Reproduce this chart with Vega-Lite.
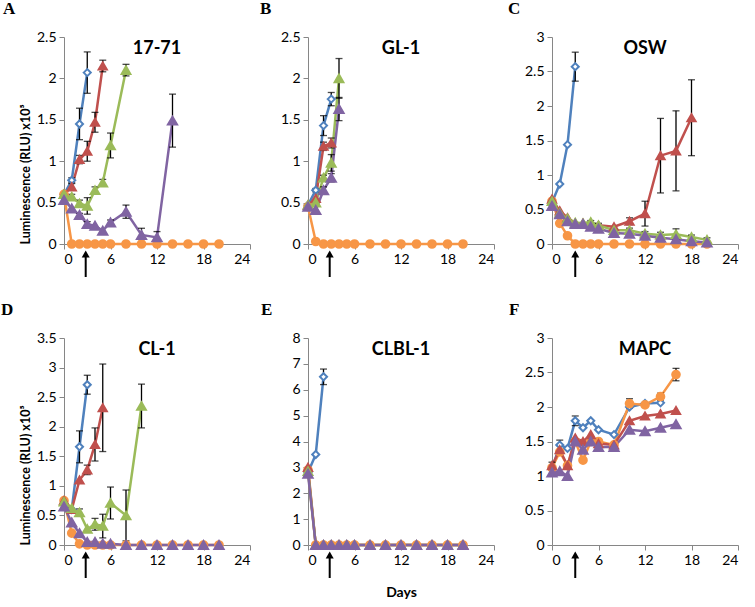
{
"$schema":"https://vega.github.io/schema/vega-lite/v6.json",
"padding":{"left":1,"top":0,"right":3,"bottom":3},
"datasets":{"d":[
{"p":"A","s":"blue","d":0,"v":0.6,"e":0},{"p":"A","s":"blue","d":1,"v":0.77,"e":0.03},{"p":"A","s":"blue","d":2,"v":1.45,"e":0.19},{"p":"A","s":"blue","d":3,"v":2.07,"e":0.25},
{"p":"A","s":"orange","d":0,"v":0.6,"e":0},{"p":"A","s":"orange","d":1,"v":0,"e":0},{"p":"A","s":"orange","d":2,"v":0,"e":0},{"p":"A","s":"orange","d":3,"v":0,"e":0},{"p":"A","s":"orange","d":4,"v":0,"e":0},{"p":"A","s":"orange","d":5,"v":0,"e":0},{"p":"A","s":"orange","d":6,"v":0,"e":0},{"p":"A","s":"orange","d":8,"v":0,"e":0},{"p":"A","s":"orange","d":10,"v":0,"e":0},{"p":"A","s":"orange","d":12,"v":0,"e":0},{"p":"A","s":"orange","d":14,"v":0,"e":0},{"p":"A","s":"orange","d":16,"v":0,"e":0},{"p":"A","s":"orange","d":18,"v":0,"e":0},{"p":"A","s":"orange","d":20,"v":0,"e":0},
{"p":"A","s":"red","d":0,"v":0.6,"e":0},{"p":"A","s":"red","d":1,"v":0.69,"e":0.04},{"p":"A","s":"red","d":2,"v":1.02,"e":0.05},{"p":"A","s":"red","d":3,"v":1.12,"e":0.12},{"p":"A","s":"red","d":4,"v":1.47,"e":0.12},{"p":"A","s":"red","d":5,"v":2.15,"e":0.07},
{"p":"A","s":"green","d":0,"v":0.6,"e":0},{"p":"A","s":"green","d":1,"v":0.57,"e":0.03},{"p":"A","s":"green","d":2,"v":0.49,"e":0.04},{"p":"A","s":"green","d":3,"v":0.46,"e":0.1},{"p":"A","s":"green","d":4,"v":0.65,"e":0.04},{"p":"A","s":"green","d":5,"v":0.74,"e":0.04},{"p":"A","s":"green","d":6,"v":1.19,"e":0.15},{"p":"A","s":"green","d":8,"v":2.1,"e":0.07},
{"p":"A","s":"purple","d":0,"v":0.53,"e":0},{"p":"A","s":"purple","d":1,"v":0.43,"e":0},{"p":"A","s":"purple","d":2,"v":0.35,"e":0.02},{"p":"A","s":"purple","d":3,"v":0.24,"e":0.03},{"p":"A","s":"purple","d":4,"v":0.22,"e":0},{"p":"A","s":"purple","d":5,"v":0.16,"e":0},{"p":"A","s":"purple","d":6,"v":0.26,"e":0.03},{"p":"A","s":"purple","d":8,"v":0.39,"e":0.08},{"p":"A","s":"purple","d":10,"v":0.11,"e":0.08},{"p":"A","s":"purple","d":12,"v":0.08,"e":0.07},{"p":"A","s":"purple","d":14,"v":1.49,"e":0.32},

{"p":"B","s":"blue","d":0,"v":0.47,"e":0},{"p":"B","s":"blue","d":1,"v":0.65,"e":0.02},{"p":"B","s":"blue","d":2,"v":1.43,"e":0.12},{"p":"B","s":"blue","d":3,"v":1.75,"e":0.08},
{"p":"B","s":"orange","d":0,"v":0.45,"e":0},{"p":"B","s":"orange","d":1,"v":0.03,"e":0},{"p":"B","s":"orange","d":2,"v":0,"e":0},{"p":"B","s":"orange","d":3,"v":0,"e":0},{"p":"B","s":"orange","d":4,"v":0,"e":0},{"p":"B","s":"orange","d":5,"v":0,"e":0},{"p":"B","s":"orange","d":6,"v":0,"e":0},{"p":"B","s":"orange","d":8,"v":0,"e":0},{"p":"B","s":"orange","d":10,"v":0,"e":0},{"p":"B","s":"orange","d":12,"v":0,"e":0},{"p":"B","s":"orange","d":14,"v":0,"e":0},{"p":"B","s":"orange","d":16,"v":0,"e":0},{"p":"B","s":"orange","d":18,"v":0,"e":0},{"p":"B","s":"orange","d":20,"v":0,"e":0},
{"p":"B","s":"red","d":0,"v":0.47,"e":0},{"p":"B","s":"red","d":1,"v":0.55,"e":0},{"p":"B","s":"red","d":2,"v":1.18,"e":0.05},{"p":"B","s":"red","d":3,"v":1.22,"e":0.06},
{"p":"B","s":"green","d":0,"v":0.47,"e":0},{"p":"B","s":"green","d":1,"v":0.5,"e":0},{"p":"B","s":"green","d":2,"v":0.8,"e":0.03},{"p":"B","s":"green","d":3,"v":0.98,"e":0.1},{"p":"B","s":"green","d":4,"v":2.0,"e":0.24},
{"p":"B","s":"purple","d":0,"v":0.45,"e":0},{"p":"B","s":"purple","d":1,"v":0.41,"e":0},{"p":"B","s":"purple","d":2,"v":0.65,"e":0.04},{"p":"B","s":"purple","d":3,"v":0.8,"e":0.05},{"p":"B","s":"purple","d":4,"v":1.63,"e":0.14},

{"p":"C","s":"blue","d":0,"v":0.6,"e":0},{"p":"C","s":"blue","d":1,"v":0.87,"e":0},{"p":"C","s":"blue","d":2,"v":1.44,"e":0},{"p":"C","s":"blue","d":3,"v":2.57,"e":0.21},
{"p":"C","s":"orange","d":0,"v":0.62,"e":0},{"p":"C","s":"orange","d":1,"v":0.3,"e":0},{"p":"C","s":"orange","d":2,"v":0.12,"e":0},{"p":"C","s":"orange","d":3,"v":0,"e":0},{"p":"C","s":"orange","d":4,"v":0,"e":0},{"p":"C","s":"orange","d":5,"v":0,"e":0},{"p":"C","s":"orange","d":6,"v":0,"e":0},{"p":"C","s":"orange","d":8,"v":0,"e":0},{"p":"C","s":"orange","d":10,"v":0,"e":0},{"p":"C","s":"orange","d":12,"v":0,"e":0},{"p":"C","s":"orange","d":14,"v":0,"e":0},{"p":"C","s":"orange","d":16,"v":0,"e":0},{"p":"C","s":"orange","d":18,"v":0,"e":0},{"p":"C","s":"orange","d":20,"v":0,"e":0},
{"p":"C","s":"red","d":0,"v":0.65,"e":0},{"p":"C","s":"red","d":1,"v":0.48,"e":0},{"p":"C","s":"red","d":2,"v":0.38,"e":0},{"p":"C","s":"red","d":3,"v":0.3,"e":0},{"p":"C","s":"red","d":4,"v":0.3,"e":0},{"p":"C","s":"red","d":5,"v":0.28,"e":0},{"p":"C","s":"red","d":6,"v":0.27,"e":0},{"p":"C","s":"red","d":8,"v":0.25,"e":0},{"p":"C","s":"red","d":10,"v":0.33,"e":0.05},{"p":"C","s":"red","d":12,"v":0.44,"e":0.18},{"p":"C","s":"red","d":14,"v":1.28,"e":0.54},{"p":"C","s":"red","d":16,"v":1.35,"e":0.58},{"p":"C","s":"red","d":18,"v":1.83,"e":0.55},
{"p":"C","s":"green","d":0,"v":0.62,"e":0},{"p":"C","s":"green","d":1,"v":0.45,"e":0},{"p":"C","s":"green","d":2,"v":0.37,"e":0},{"p":"C","s":"green","d":3,"v":0.31,"e":0},{"p":"C","s":"green","d":4,"v":0.3,"e":0},{"p":"C","s":"green","d":5,"v":0.32,"e":0.02},{"p":"C","s":"green","d":6,"v":0.27,"e":0.03},{"p":"C","s":"green","d":8,"v":0.2,"e":0},{"p":"C","s":"green","d":10,"v":0.2,"e":0.03},{"p":"C","s":"green","d":12,"v":0.15,"e":0.03},{"p":"C","s":"green","d":14,"v":0.13,"e":0.04},{"p":"C","s":"green","d":16,"v":0.14,"e":0.08},{"p":"C","s":"green","d":18,"v":0.1,"e":0.03},{"p":"C","s":"green","d":20,"v":0.06,"e":0.03},
{"p":"C","s":"purple","d":0,"v":0.55,"e":0},{"p":"C","s":"purple","d":1,"v":0.43,"e":0},{"p":"C","s":"purple","d":2,"v":0.33,"e":0},{"p":"C","s":"purple","d":3,"v":0.29,"e":0},{"p":"C","s":"purple","d":4,"v":0.29,"e":0},{"p":"C","s":"purple","d":5,"v":0.25,"e":0},{"p":"C","s":"purple","d":6,"v":0.22,"e":0},{"p":"C","s":"purple","d":8,"v":0.16,"e":0},{"p":"C","s":"purple","d":10,"v":0.15,"e":0},{"p":"C","s":"purple","d":12,"v":0.12,"e":0},{"p":"C","s":"purple","d":14,"v":0.09,"e":0},{"p":"C","s":"purple","d":16,"v":0.07,"e":0},{"p":"C","s":"purple","d":18,"v":0.04,"e":0},{"p":"C","s":"purple","d":20,"v":0.02,"e":0},

{"p":"D","s":"blue","d":0,"v":0.7,"e":0},{"p":"D","s":"blue","d":1,"v":0.6,"e":0},{"p":"D","s":"blue","d":2,"v":1.66,"e":0.27},{"p":"D","s":"blue","d":3,"v":2.71,"e":0.16},
{"p":"D","s":"orange","d":0,"v":0.75,"e":0},{"p":"D","s":"orange","d":1,"v":0.2,"e":0},{"p":"D","s":"orange","d":2,"v":0.02,"e":0},{"p":"D","s":"orange","d":3,"v":0,"e":0},{"p":"D","s":"orange","d":4,"v":0,"e":0},{"p":"D","s":"orange","d":5,"v":0,"e":0},{"p":"D","s":"orange","d":6,"v":0,"e":0},{"p":"D","s":"orange","d":8,"v":0,"e":0},{"p":"D","s":"orange","d":10,"v":0,"e":0},{"p":"D","s":"orange","d":12,"v":0,"e":0},{"p":"D","s":"orange","d":14,"v":0,"e":0},{"p":"D","s":"orange","d":16,"v":0,"e":0},{"p":"D","s":"orange","d":18,"v":0,"e":0},{"p":"D","s":"orange","d":20,"v":0,"e":0},
{"p":"D","s":"red","d":0,"v":0.75,"e":0},{"p":"D","s":"red","d":1,"v":0.6,"e":0},{"p":"D","s":"red","d":2,"v":1.1,"e":0},{"p":"D","s":"red","d":3,"v":1.27,"e":0.08},{"p":"D","s":"red","d":4,"v":1.7,"e":0.28},{"p":"D","s":"red","d":5,"v":2.32,"e":0.74},
{"p":"D","s":"green","d":0,"v":0.73,"e":0},{"p":"D","s":"green","d":1,"v":0.62,"e":0},{"p":"D","s":"green","d":2,"v":0.55,"e":0.06},{"p":"D","s":"green","d":3,"v":0.27,"e":0},{"p":"D","s":"green","d":4,"v":0.35,"e":0.1},{"p":"D","s":"green","d":5,"v":0.32,"e":0.2},{"p":"D","s":"green","d":6,"v":0.71,"e":0.27},{"p":"D","s":"green","d":8,"v":0.5,"e":0.43},{"p":"D","s":"green","d":10,"v":2.35,"e":0.37},
{"p":"D","s":"purple","d":0,"v":0.65,"e":0},{"p":"D","s":"purple","d":1,"v":0.38,"e":0},{"p":"D","s":"purple","d":2,"v":0.2,"e":0},{"p":"D","s":"purple","d":3,"v":0.05,"e":0},{"p":"D","s":"purple","d":4,"v":0.05,"e":0},{"p":"D","s":"purple","d":5,"v":0.02,"e":0},{"p":"D","s":"purple","d":6,"v":0.02,"e":0},{"p":"D","s":"purple","d":8,"v":0,"e":0},{"p":"D","s":"purple","d":10,"v":0,"e":0},{"p":"D","s":"purple","d":12,"v":0,"e":0},{"p":"D","s":"purple","d":14,"v":0,"e":0},{"p":"D","s":"purple","d":16,"v":0,"e":0},{"p":"D","s":"purple","d":18,"v":0,"e":0},{"p":"D","s":"purple","d":20,"v":0,"e":0},

{"p":"E","s":"blue","d":0,"v":2.8,"e":0},{"p":"E","s":"blue","d":1,"v":3.5,"e":0},{"p":"E","s":"blue","d":2,"v":6.5,"e":0.3},
{"p":"E","s":"orange","d":0,"v":2.9,"e":0},{"p":"E","s":"orange","d":1,"v":0,"e":0},{"p":"E","s":"orange","d":2,"v":0,"e":0},{"p":"E","s":"orange","d":3,"v":0,"e":0},{"p":"E","s":"orange","d":4,"v":0,"e":0},{"p":"E","s":"orange","d":5,"v":0,"e":0},{"p":"E","s":"orange","d":6,"v":0,"e":0},{"p":"E","s":"orange","d":8,"v":0,"e":0},{"p":"E","s":"orange","d":10,"v":0,"e":0},{"p":"E","s":"orange","d":12,"v":0,"e":0},{"p":"E","s":"orange","d":14,"v":0,"e":0},{"p":"E","s":"orange","d":16,"v":0,"e":0},{"p":"E","s":"orange","d":18,"v":0,"e":0},{"p":"E","s":"orange","d":20,"v":0,"e":0},
{"p":"E","s":"red","d":0,"v":3.0,"e":0},{"p":"E","s":"red","d":1,"v":0,"e":0},{"p":"E","s":"red","d":2,"v":0,"e":0},{"p":"E","s":"red","d":3,"v":0,"e":0},{"p":"E","s":"red","d":4,"v":0,"e":0},{"p":"E","s":"red","d":5,"v":0,"e":0},{"p":"E","s":"red","d":6,"v":0,"e":0},{"p":"E","s":"red","d":8,"v":0,"e":0},{"p":"E","s":"red","d":10,"v":0,"e":0},{"p":"E","s":"red","d":12,"v":0,"e":0},{"p":"E","s":"red","d":14,"v":0,"e":0},{"p":"E","s":"red","d":16,"v":0,"e":0},{"p":"E","s":"red","d":18,"v":0,"e":0},{"p":"E","s":"red","d":20,"v":0,"e":0},
{"p":"E","s":"green","d":0,"v":2.85,"e":0},{"p":"E","s":"green","d":1,"v":0,"e":0},{"p":"E","s":"green","d":2,"v":0,"e":0},{"p":"E","s":"green","d":3,"v":0,"e":0},{"p":"E","s":"green","d":4,"v":0,"e":0},{"p":"E","s":"green","d":5,"v":0,"e":0},{"p":"E","s":"green","d":6,"v":0,"e":0},{"p":"E","s":"green","d":8,"v":0,"e":0},{"p":"E","s":"green","d":10,"v":0,"e":0},{"p":"E","s":"green","d":12,"v":0,"e":0},{"p":"E","s":"green","d":14,"v":0,"e":0},{"p":"E","s":"green","d":16,"v":0,"e":0},{"p":"E","s":"green","d":18,"v":0,"e":0},{"p":"E","s":"green","d":20,"v":0,"e":0},
{"p":"E","s":"purple","d":0,"v":2.75,"e":0},{"p":"E","s":"purple","d":1,"v":0,"e":0},{"p":"E","s":"purple","d":2,"v":0,"e":0},{"p":"E","s":"purple","d":3,"v":0,"e":0},{"p":"E","s":"purple","d":4,"v":0,"e":0},{"p":"E","s":"purple","d":5,"v":0,"e":0},{"p":"E","s":"purple","d":6,"v":0,"e":0},{"p":"E","s":"purple","d":8,"v":0,"e":0},{"p":"E","s":"purple","d":10,"v":0,"e":0},{"p":"E","s":"purple","d":12,"v":0,"e":0},{"p":"E","s":"purple","d":14,"v":0,"e":0},{"p":"E","s":"purple","d":16,"v":0,"e":0},{"p":"E","s":"purple","d":18,"v":0,"e":0},{"p":"E","s":"purple","d":20,"v":0,"e":0},

{"p":"F","s":"blue","d":0,"v":1.1,"e":0.1},{"p":"F","s":"blue","d":1,"v":1.45,"e":0.07},{"p":"F","s":"blue","d":2,"v":1.4,"e":0},{"p":"F","s":"blue","d":3,"v":1.8,"e":0.07},{"p":"F","s":"blue","d":4,"v":1.7,"e":0},{"p":"F","s":"blue","d":5,"v":1.8,"e":0},{"p":"F","s":"blue","d":6,"v":1.67,"e":0},{"p":"F","s":"blue","d":8,"v":1.6,"e":0},{"p":"F","s":"blue","d":10,"v":2.0,"e":0},{"p":"F","s":"blue","d":12,"v":2.05,"e":0},{"p":"F","s":"blue","d":14,"v":2.06,"e":0},
{"p":"F","s":"orange","d":0,"v":1.12,"e":0},{"p":"F","s":"orange","d":1,"v":1.35,"e":0},{"p":"F","s":"orange","d":2,"v":1.15,"e":0},{"p":"F","s":"orange","d":3,"v":1.5,"e":0},{"p":"F","s":"orange","d":4,"v":1.23,"e":0},{"p":"F","s":"orange","d":5,"v":1.5,"e":0},{"p":"F","s":"orange","d":6,"v":1.5,"e":0},{"p":"F","s":"orange","d":8,"v":1.45,"e":0},{"p":"F","s":"orange","d":10,"v":2.05,"e":0.07},{"p":"F","s":"orange","d":12,"v":2.03,"e":0},{"p":"F","s":"orange","d":14,"v":2.15,"e":0.05},{"p":"F","s":"orange","d":16,"v":2.47,"e":0.09},
{"p":"F","s":"red","d":0,"v":1.15,"e":0},{"p":"F","s":"red","d":1,"v":1.38,"e":0},{"p":"F","s":"red","d":2,"v":1.15,"e":0},{"p":"F","s":"red","d":3,"v":1.55,"e":0},{"p":"F","s":"red","d":4,"v":1.5,"e":0},{"p":"F","s":"red","d":5,"v":1.6,"e":0},{"p":"F","s":"red","d":6,"v":1.47,"e":0},{"p":"F","s":"red","d":8,"v":1.45,"e":0},{"p":"F","s":"red","d":10,"v":1.8,"e":0},{"p":"F","s":"red","d":12,"v":1.87,"e":0},{"p":"F","s":"red","d":14,"v":1.9,"e":0},{"p":"F","s":"red","d":16,"v":1.95,"e":0},
{"p":"F","s":"purple","d":0,"v":1.05,"e":0},{"p":"F","s":"purple","d":1,"v":1.07,"e":0},{"p":"F","s":"purple","d":2,"v":1.0,"e":0},{"p":"F","s":"purple","d":3,"v":1.5,"e":0},{"p":"F","s":"purple","d":4,"v":1.38,"e":0},{"p":"F","s":"purple","d":5,"v":1.5,"e":0},{"p":"F","s":"purple","d":6,"v":1.42,"e":0},{"p":"F","s":"purple","d":8,"v":1.42,"e":0},{"p":"F","s":"purple","d":10,"v":1.67,"e":0},{"p":"F","s":"purple","d":12,"v":1.65,"e":0},{"p":"F","s":"purple","d":14,"v":1.7,"e":0},{"p":"F","s":"purple","d":16,"v":1.75,"e":0}
]},
"columns":3,
"spacing":{"row":94,"column":58},
"bounds":"flush",
"concat":[
{"width":186,"height":207,"title":{"text":"A","dx":-61},
 "layer":[
  {"data":{"name":"d"},"transform":[{"filter":"datum.p==='A'"}],
   "encoding":{"x":{"field":"d","type":"quantitative","scale":{"domain":[0,24],"nice":false,"padding":0},"axis":{"values":[0,6,12,18,24],"title":null}},
    "y":{"field":"v","type":"quantitative","scale":{"domain":[0,2.5],"nice":false,"padding":0},"axis":{"values":[0,0.5,1,1.5,2,2.5],"title":"Luminescence (RLU) x10⁵"}}},
   "layer":[
    {"mark":{"type":"line","strokeWidth":2.5},"encoding":{"color":{"field":"s","type":"nominal","scale":{"domain":["blue","orange","red","green","purple"],"range":["#4F81BD","#F79646","#C0504D","#9BBB59","#8064A2"]},"legend":null}}},
    {"transform":[{"filter":"datum.e>0"}],"mark":{"type":"errorbar","color":"black","thickness":1.3,"ticks":{"size":7}},"encoding":{"yError":{"field":"e"}}},
    {"mark":{"type":"point","strokeWidth":2,"opacity":1},"encoding":{
      "shape":{"field":"s","type":"nominal","scale":{"domain":["blue","orange","red","green","purple"],"range":["diamond","circle","triangle-up","triangle-up","triangle-up"]},"legend":null},
      "fill":{"field":"s","type":"nominal","scale":{"domain":["blue","orange","red","green","purple"],"range":["white","#F79646","#C0504D","#9BBB59","#8064A2"]},"legend":null},
      "stroke":{"field":"s","type":"nominal","scale":{"domain":["blue","orange","red","green","purple"],"range":["#4F81BD","#F79646","#C0504D","#9BBB59","#8064A2"]},"legend":null},
      "size":{"field":"s","type":"nominal","scale":{"domain":["blue","orange","red","green","purple"],"range":[50,85,80,80,80]},"legend":null}}}
   ]},
  {"data":{"values":[{"t":"17-71"}]},"mark":{"type":"text","fontSize":18,"fontWeight":"bold","baseline":"top","dy":3},"encoding":{"x":{"datum":12,"scale":{"domain":[0,24],"nice":false,"padding":0},"axis":{"values":[0,6,12,18,24],"title":null}},"y":{"datum":2.5,"scale":{"domain":[0,2.5],"nice":false,"padding":0},"axis":{"values":[0,0.5,1,1.5,2,2.5],"title":"Luminescence (RLU) x10⁵"}},"text":{"field":"t"}}},
  {"data":{"values":[{"t":"arrow"}]},"mark":{"type":"rule","color":"black","strokeWidth":2,"yOffset":12,"y2Offset":33},"encoding":{"x":{"datum":2.8,"scale":{"domain":[0,24],"nice":false,"padding":0},"axis":{"values":[0,6,12,18,24],"title":null}},"y":{"datum":0,"scale":{"domain":[0,2.5],"nice":false,"padding":0},"axis":{"values":[0,0.5,1,1.5,2,2.5],"title":"Luminescence (RLU) x10⁵"}},"y2":{"datum":0}}},
  {"data":{"values":[{"t":"arrow"}]},"mark":{"type":"point","shape":"triangle-up","filled":true,"color":"black","size":64,"yOffset":10,"opacity":1},"encoding":{"x":{"datum":2.8,"scale":{"domain":[0,24],"nice":false,"padding":0},"axis":{"values":[0,6,12,18,24],"title":null}},"y":{"datum":0,"scale":{"domain":[0,2.5],"nice":false,"padding":0},"axis":{"values":[0,0.5,1,1.5,2,2.5],"title":"Luminescence (RLU) x10⁵"}}}}
 ]},
{"width":186,"height":207,"title":{"text":"B","dx":-48},
 "layer":[
  {"data":{"name":"d"},"transform":[{"filter":"datum.p==='B'"}],
   "encoding":{"x":{"field":"d","type":"quantitative","scale":{"domain":[0,24],"nice":false,"padding":0},"axis":{"values":[0,6,12,18,24],"title":null}},
    "y":{"field":"v","type":"quantitative","scale":{"domain":[0,2.5],"nice":false,"padding":0},"axis":{"values":[0,0.5,1,1.5,2,2.5],"title":null}}},
   "layer":[
    {"mark":{"type":"line","strokeWidth":2.5},"encoding":{"color":{"field":"s","type":"nominal","scale":{"domain":["blue","orange","red","green","purple"],"range":["#4F81BD","#F79646","#C0504D","#9BBB59","#8064A2"]},"legend":null}}},
    {"transform":[{"filter":"datum.e>0"}],"mark":{"type":"errorbar","color":"black","thickness":1.3,"ticks":{"size":7}},"encoding":{"yError":{"field":"e"}}},
    {"mark":{"type":"point","strokeWidth":2,"opacity":1},"encoding":{
      "shape":{"field":"s","type":"nominal","scale":{"domain":["blue","orange","red","green","purple"],"range":["diamond","circle","triangle-up","triangle-up","triangle-up"]},"legend":null},
      "fill":{"field":"s","type":"nominal","scale":{"domain":["blue","orange","red","green","purple"],"range":["white","#F79646","#C0504D","#9BBB59","#8064A2"]},"legend":null},
      "stroke":{"field":"s","type":"nominal","scale":{"domain":["blue","orange","red","green","purple"],"range":["#4F81BD","#F79646","#C0504D","#9BBB59","#8064A2"]},"legend":null},
      "size":{"field":"s","type":"nominal","scale":{"domain":["blue","orange","red","green","purple"],"range":[50,85,80,80,80]},"legend":null}}}
   ]},
  {"data":{"values":[{"t":"GL-1"}]},"mark":{"type":"text","fontSize":18,"fontWeight":"bold","baseline":"top","dy":3},"encoding":{"x":{"datum":12,"scale":{"domain":[0,24],"nice":false,"padding":0},"axis":{"values":[0,6,12,18,24],"title":null}},"y":{"datum":2.5,"scale":{"domain":[0,2.5],"nice":false,"padding":0},"axis":{"values":[0,0.5,1,1.5,2,2.5],"title":null}},"text":{"field":"t"}}},
  {"data":{"values":[{"t":"arrow"}]},"mark":{"type":"rule","color":"black","strokeWidth":2,"yOffset":12,"y2Offset":33},"encoding":{"x":{"datum":2.8,"scale":{"domain":[0,24],"nice":false,"padding":0},"axis":{"values":[0,6,12,18,24],"title":null}},"y":{"datum":0,"scale":{"domain":[0,2.5],"nice":false,"padding":0},"axis":{"values":[0,0.5,1,1.5,2,2.5],"title":null}},"y2":{"datum":0}}},
  {"data":{"values":[{"t":"arrow"}]},"mark":{"type":"point","shape":"triangle-up","filled":true,"color":"black","size":64,"yOffset":10,"opacity":1},"encoding":{"x":{"datum":2.8,"scale":{"domain":[0,24],"nice":false,"padding":0},"axis":{"values":[0,6,12,18,24],"title":null}},"y":{"datum":0,"scale":{"domain":[0,2.5],"nice":false,"padding":0},"axis":{"values":[0,0.5,1,1.5,2,2.5],"title":null}}}}
 ]},
{"width":186,"height":207,"title":{"text":"C","dx":-44},
 "layer":[
  {"data":{"name":"d"},"transform":[{"filter":"datum.p==='C'"}],
   "encoding":{"x":{"field":"d","type":"quantitative","scale":{"domain":[0,24],"nice":false,"padding":0},"axis":{"values":[0,6,12,18,24],"title":null}},
    "y":{"field":"v","type":"quantitative","scale":{"domain":[0,3],"nice":false,"padding":0},"axis":{"values":[0,0.5,1,1.5,2,2.5,3],"title":null}}},
   "layer":[
    {"mark":{"type":"line","strokeWidth":2.5},"encoding":{"color":{"field":"s","type":"nominal","scale":{"domain":["blue","orange","red","green","purple"],"range":["#4F81BD","#F79646","#C0504D","#9BBB59","#8064A2"]},"legend":null}}},
    {"transform":[{"filter":"datum.e>0"}],"mark":{"type":"errorbar","color":"black","thickness":1.3,"ticks":{"size":7}},"encoding":{"yError":{"field":"e"}}},
    {"mark":{"type":"point","strokeWidth":2,"opacity":1},"encoding":{
      "shape":{"field":"s","type":"nominal","scale":{"domain":["blue","orange","red","green","purple"],"range":["diamond","circle","triangle-up","triangle-up","triangle-up"]},"legend":null},
      "fill":{"field":"s","type":"nominal","scale":{"domain":["blue","orange","red","green","purple"],"range":["white","#F79646","#C0504D","#9BBB59","#8064A2"]},"legend":null},
      "stroke":{"field":"s","type":"nominal","scale":{"domain":["blue","orange","red","green","purple"],"range":["#4F81BD","#F79646","#C0504D","#9BBB59","#8064A2"]},"legend":null},
      "size":{"field":"s","type":"nominal","scale":{"domain":["blue","orange","red","green","purple"],"range":[50,85,80,80,80]},"legend":null}}}
   ]},
  {"data":{"values":[{"t":"OSW"}]},"mark":{"type":"text","fontSize":18,"fontWeight":"bold","baseline":"top","dy":3},"encoding":{"x":{"datum":12,"scale":{"domain":[0,24],"nice":false,"padding":0},"axis":{"values":[0,6,12,18,24],"title":null}},"y":{"datum":3,"scale":{"domain":[0,3],"nice":false,"padding":0},"axis":{"values":[0,0.5,1,1.5,2,2.5,3],"title":null}},"text":{"field":"t"}}},
  {"data":{"values":[{"t":"arrow"}]},"mark":{"type":"rule","color":"black","strokeWidth":2,"yOffset":12,"y2Offset":33},"encoding":{"x":{"datum":3,"scale":{"domain":[0,24],"nice":false,"padding":0},"axis":{"values":[0,6,12,18,24],"title":null}},"y":{"datum":0,"scale":{"domain":[0,3],"nice":false,"padding":0},"axis":{"values":[0,0.5,1,1.5,2,2.5,3],"title":null}},"y2":{"datum":0}}},
  {"data":{"values":[{"t":"arrow"}]},"mark":{"type":"point","shape":"triangle-up","filled":true,"color":"black","size":64,"yOffset":10,"opacity":1},"encoding":{"x":{"datum":3,"scale":{"domain":[0,24],"nice":false,"padding":0},"axis":{"values":[0,6,12,18,24],"title":null}},"y":{"datum":0,"scale":{"domain":[0,3],"nice":false,"padding":0},"axis":{"values":[0,0.5,1,1.5,2,2.5,3],"title":null}}}}
 ]},
{"width":186,"height":207,"title":{"text":"D","dx":-63},
 "layer":[
  {"data":{"name":"d"},"transform":[{"filter":"datum.p==='D'"}],
   "encoding":{"x":{"field":"d","type":"quantitative","scale":{"domain":[0,24],"nice":false,"padding":0},"axis":{"values":[0,6,12,18,24],"title":null}},
    "y":{"field":"v","type":"quantitative","scale":{"domain":[0,3.5],"nice":false,"padding":0},"axis":{"values":[0,0.5,1,1.5,2,2.5,3,3.5],"title":"Luminescence (RLU) x10⁵"}}},
   "layer":[
    {"mark":{"type":"line","strokeWidth":2.5},"encoding":{"color":{"field":"s","type":"nominal","scale":{"domain":["blue","orange","red","green","purple"],"range":["#4F81BD","#F79646","#C0504D","#9BBB59","#8064A2"]},"legend":null}}},
    {"transform":[{"filter":"datum.e>0"}],"mark":{"type":"errorbar","color":"black","thickness":1.3,"ticks":{"size":7}},"encoding":{"yError":{"field":"e"}}},
    {"mark":{"type":"point","strokeWidth":2,"opacity":1},"encoding":{
      "shape":{"field":"s","type":"nominal","scale":{"domain":["blue","orange","red","green","purple"],"range":["diamond","circle","triangle-up","triangle-up","triangle-up"]},"legend":null},
      "fill":{"field":"s","type":"nominal","scale":{"domain":["blue","orange","red","green","purple"],"range":["white","#F79646","#C0504D","#9BBB59","#8064A2"]},"legend":null},
      "stroke":{"field":"s","type":"nominal","scale":{"domain":["blue","orange","red","green","purple"],"range":["#4F81BD","#F79646","#C0504D","#9BBB59","#8064A2"]},"legend":null},
      "size":{"field":"s","type":"nominal","scale":{"domain":["blue","orange","red","green","purple"],"range":[50,85,80,80,80]},"legend":null}}}
   ]},
  {"data":{"values":[{"t":"CL-1"}]},"mark":{"type":"text","fontSize":18,"fontWeight":"bold","baseline":"top","dy":3},"encoding":{"x":{"datum":12,"scale":{"domain":[0,24],"nice":false,"padding":0},"axis":{"values":[0,6,12,18,24],"title":null}},"y":{"datum":3.5,"scale":{"domain":[0,3.5],"nice":false,"padding":0},"axis":{"values":[0,0.5,1,1.5,2,2.5,3,3.5],"title":"Luminescence (RLU) x10⁵"}},"text":{"field":"t"}}},
  {"data":{"values":[{"t":"arrow"}]},"mark":{"type":"rule","color":"black","strokeWidth":2,"yOffset":12,"y2Offset":33},"encoding":{"x":{"datum":2.8,"scale":{"domain":[0,24],"nice":false,"padding":0},"axis":{"values":[0,6,12,18,24],"title":null}},"y":{"datum":0,"scale":{"domain":[0,3.5],"nice":false,"padding":0},"axis":{"values":[0,0.5,1,1.5,2,2.5,3,3.5],"title":"Luminescence (RLU) x10⁵"}},"y2":{"datum":0}}},
  {"data":{"values":[{"t":"arrow"}]},"mark":{"type":"point","shape":"triangle-up","filled":true,"color":"black","size":64,"yOffset":10,"opacity":1},"encoding":{"x":{"datum":2.8,"scale":{"domain":[0,24],"nice":false,"padding":0},"axis":{"values":[0,6,12,18,24],"title":null}},"y":{"datum":0,"scale":{"domain":[0,3.5],"nice":false,"padding":0},"axis":{"values":[0,0.5,1,1.5,2,2.5,3,3.5],"title":"Luminescence (RLU) x10⁵"}}}}
 ]},
{"width":186,"height":207,"title":{"text":"E","dx":-47},
 "layer":[
  {"data":{"name":"d"},"transform":[{"filter":"datum.p==='E'"}],
   "encoding":{"x":{"field":"d","type":"quantitative","scale":{"domain":[0,24],"nice":false,"padding":0},"axis":{"values":[0,6,12,18,24],"title":"Days","titlePadding":18}},
    "y":{"field":"v","type":"quantitative","scale":{"domain":[0,8],"nice":false,"padding":0},"axis":{"values":[0,1,2,3,4,5,6,7,8],"title":null}}},
   "layer":[
    {"mark":{"type":"line","strokeWidth":2.5},"encoding":{"color":{"field":"s","type":"nominal","scale":{"domain":["blue","orange","red","green","purple"],"range":["#4F81BD","#F79646","#C0504D","#9BBB59","#8064A2"]},"legend":null}}},
    {"transform":[{"filter":"datum.e>0"}],"mark":{"type":"errorbar","color":"black","thickness":1.3,"ticks":{"size":7}},"encoding":{"yError":{"field":"e"}}},
    {"mark":{"type":"point","strokeWidth":2,"opacity":1},"encoding":{
      "shape":{"field":"s","type":"nominal","scale":{"domain":["blue","orange","red","green","purple"],"range":["diamond","circle","triangle-up","triangle-up","triangle-up"]},"legend":null},
      "fill":{"field":"s","type":"nominal","scale":{"domain":["blue","orange","red","green","purple"],"range":["white","#F79646","#C0504D","#9BBB59","#8064A2"]},"legend":null},
      "stroke":{"field":"s","type":"nominal","scale":{"domain":["blue","orange","red","green","purple"],"range":["#4F81BD","#F79646","#C0504D","#9BBB59","#8064A2"]},"legend":null},
      "size":{"field":"s","type":"nominal","scale":{"domain":["blue","orange","red","green","purple"],"range":[50,85,80,80,80]},"legend":null}}}
   ]},
  {"data":{"values":[{"t":"CLBL-1"}]},"mark":{"type":"text","fontSize":18,"fontWeight":"bold","baseline":"top","dy":3},"encoding":{"x":{"datum":12,"scale":{"domain":[0,24],"nice":false,"padding":0},"axis":{"values":[0,6,12,18,24],"title":"Days","titlePadding":18}},"y":{"datum":8,"scale":{"domain":[0,8],"nice":false,"padding":0},"axis":{"values":[0,1,2,3,4,5,6,7,8],"title":null}},"text":{"field":"t"}}},
  {"data":{"values":[{"t":"arrow"}]},"mark":{"type":"rule","color":"black","strokeWidth":2,"yOffset":12,"y2Offset":33},"encoding":{"x":{"datum":2.8,"scale":{"domain":[0,24],"nice":false,"padding":0},"axis":{"values":[0,6,12,18,24],"title":"Days","titlePadding":18}},"y":{"datum":0,"scale":{"domain":[0,8],"nice":false,"padding":0},"axis":{"values":[0,1,2,3,4,5,6,7,8],"title":null}},"y2":{"datum":0}}},
  {"data":{"values":[{"t":"arrow"}]},"mark":{"type":"point","shape":"triangle-up","filled":true,"color":"black","size":64,"yOffset":10,"opacity":1},"encoding":{"x":{"datum":2.8,"scale":{"domain":[0,24],"nice":false,"padding":0},"axis":{"values":[0,6,12,18,24],"title":"Days","titlePadding":18}},"y":{"datum":0,"scale":{"domain":[0,8],"nice":false,"padding":0},"axis":{"values":[0,1,2,3,4,5,6,7,8],"title":null}}}}
 ]},
{"width":186,"height":207,"title":{"text":"F","dx":-43},
 "layer":[
  {"data":{"name":"d"},"transform":[{"filter":"datum.p==='F'"}],
   "encoding":{"x":{"field":"d","type":"quantitative","scale":{"domain":[0,24],"nice":false,"padding":0},"axis":{"values":[0,6,12,18,24],"title":null}},
    "y":{"field":"v","type":"quantitative","scale":{"domain":[0,3],"nice":false,"padding":0},"axis":{"values":[0,0.5,1,1.5,2,2.5,3],"title":null}}},
   "layer":[
    {"mark":{"type":"line","strokeWidth":2.5},"encoding":{"color":{"field":"s","type":"nominal","scale":{"domain":["blue","orange","red","green","purple"],"range":["#4F81BD","#F79646","#C0504D","#9BBB59","#8064A2"]},"legend":null}}},
    {"transform":[{"filter":"datum.e>0"}],"mark":{"type":"errorbar","color":"black","thickness":1.3,"ticks":{"size":7}},"encoding":{"yError":{"field":"e"}}},
    {"mark":{"type":"point","strokeWidth":2,"opacity":1},"encoding":{
      "shape":{"field":"s","type":"nominal","scale":{"domain":["blue","orange","red","green","purple"],"range":["diamond","circle","triangle-up","triangle-up","triangle-up"]},"legend":null},
      "fill":{"field":"s","type":"nominal","scale":{"domain":["blue","orange","red","green","purple"],"range":["white","#F79646","#C0504D","#9BBB59","#8064A2"]},"legend":null},
      "stroke":{"field":"s","type":"nominal","scale":{"domain":["blue","orange","red","green","purple"],"range":["#4F81BD","#F79646","#C0504D","#9BBB59","#8064A2"]},"legend":null},
      "size":{"field":"s","type":"nominal","scale":{"domain":["blue","orange","red","green","purple"],"range":[50,85,80,80,80]},"legend":null}}}
   ]},
  {"data":{"values":[{"t":"MAPC"}]},"mark":{"type":"text","fontSize":18,"fontWeight":"bold","baseline":"top","dy":3},"encoding":{"x":{"datum":12,"scale":{"domain":[0,24],"nice":false,"padding":0},"axis":{"values":[0,6,12,18,24],"title":null}},"y":{"datum":3,"scale":{"domain":[0,3],"nice":false,"padding":0},"axis":{"values":[0,0.5,1,1.5,2,2.5,3],"title":null}},"text":{"field":"t"}}},
  {"data":{"values":[{"t":"arrow"}]},"mark":{"type":"rule","color":"black","strokeWidth":2,"yOffset":12,"y2Offset":33},"encoding":{"x":{"datum":3,"scale":{"domain":[0,24],"nice":false,"padding":0},"axis":{"values":[0,6,12,18,24],"title":null}},"y":{"datum":0,"scale":{"domain":[0,3],"nice":false,"padding":0},"axis":{"values":[0,0.5,1,1.5,2,2.5,3],"title":null}},"y2":{"datum":0}}},
  {"data":{"values":[{"t":"arrow"}]},"mark":{"type":"point","shape":"triangle-up","filled":true,"color":"black","size":64,"yOffset":10,"opacity":1},"encoding":{"x":{"datum":3,"scale":{"domain":[0,24],"nice":false,"padding":0},"axis":{"values":[0,6,12,18,24],"title":null}},"y":{"datum":0,"scale":{"domain":[0,3],"nice":false,"padding":0},"axis":{"values":[0,0.5,1,1.5,2,2.5,3],"title":null}}}}
 ]}
],
"config":{
 "view":{"stroke":null},
 "font":"Lato",
 "text":{"font":"Lato","color":"black"},
 "scale":{"continuousPadding":0},
 "axis":{"grid":false,"labelOverlap":false,"domainColor":"#868686","domainWidth":1,"tickColor":"#868686","tickSize":5,"labelColor":"black","labelFont":"Lato","labelFontSize":14,"labelPadding":3,"titleFont":"Lato","titleFontSize":14,"titleFontWeight":"bold","titleColor":"black","titlePadding":4,"format":"~g"},
 "axisY":{"titleAnchor":"start","titleFontSize":12.5},
 "title":{"anchor":"start","frame":"group","font":"Liberation Serif","fontSize":17,"fontWeight":"bold","color":"black","offset":12}
}
}
